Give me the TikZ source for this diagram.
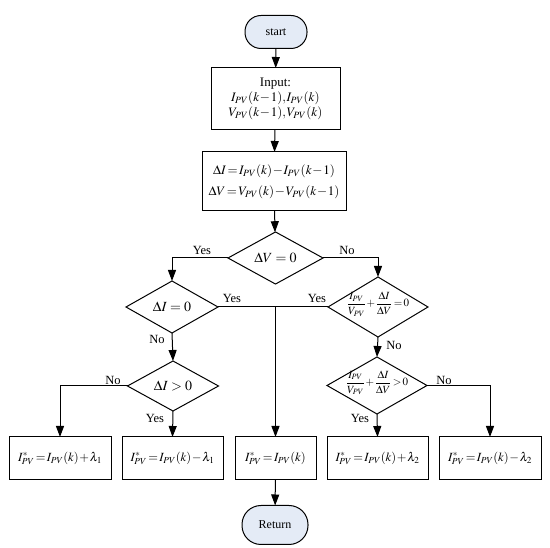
\documentclass[tikz,border=0pt]{standalone}
\usepackage{mathptmx}
\usepackage[no-math]{fontspec}
\setmainfont{Liberation Serif}
\usetikzlibrary{shapes.geometric,arrows.meta}
\definecolor{termfill}{HTML}{E4EBF6}
\newcommand{\tightmath}{\medmuskip=1mu\thickmuskip=2mu\thinmuskip=1mu}
\newcommand{\slimbox}[1]{\makebox[40pt]{\raisebox{0pt}[4pt][4pt]{#1}}}
\tikzset{
  every node/.style={inner sep=0pt,outer sep=0pt},
  flow/.style={line width=1pt,-{Triangle[length=11pt,width=8pt]}},
  plain/.style={line width=1pt},
  term/.style={draw,line width=1pt,fill=termfill,rounded corners=16pt,font=\fontsize{12}{14}\selectfont},
  procbox/.style={draw,line width=1pt,align=center,font=\fontsize{13}{16}\selectfont\tightmath},
  resbox/.style={draw,line width=1pt,minimum height=43pt,font=\fontsize{12.5}{16}\selectfont\tightmath},
  decide/.style={draw,diamond,line width=1pt,font=\fontsize{14}{16}\selectfont},
  decsmall/.style={draw,diamond,line width=1pt,font=\fontsize{11}{13}\selectfont\tightmath},
  lab/.style={font=\fontsize{12.5}{14}\selectfont}
}
\begin{document}
\begin{tikzpicture}[x=1pt,y=-1pt]
\useasboundingbox (0,0) rectangle (550,548);
% terminators
\node[term,minimum width=62pt,minimum height=33pt] (start) at (276,32) {start};
\node[term,minimum width=66pt,minimum height=39pt,rounded corners=19pt] (ret) at (275,525) {Return};
% process boxes
\node[procbox,minimum width=129pt,minimum height=62pt] (input) at (275.5,99)
  {Input:\\[-1pt] $I_{PV}(k-1), I_{PV}(k)$\\[-1pt] $V_{PV}(k-1),V_{PV}(k)$};
\node[procbox,minimum width=144pt,minimum height=59pt] (delta) at (274,181.5)
  {$\Delta I = I_{PV}(k)-I_{PV}(k-1)$\\[5pt] $\Delta V = V_{PV}(k)-V_{PV}(k-1)$};
% decisions
\node[decide,minimum width=95pt,minimum height=50pt] (dv) at (275.5,258) {$\Delta V=0$};
\node[decide,minimum width=92pt,minimum height=52pt] (di0) at (172,307) {$\Delta I=0$};
\node[decsmall,minimum width=100pt,minimum height=60pt] (r1) at (378,307)
  {\slimbox{$\displaystyle\frac{I_{PV}}{V_{PV}}+\frac{\Delta I}{\Delta V}=0$}};
\node[decide,minimum width=91pt,minimum height=50pt] (dip) at (173,386) {$\Delta I>0$};
\node[decsmall,minimum width=100pt,minimum height=57pt] (r2) at (377,385.5)
  {\slimbox{$\displaystyle\frac{I_{PV}}{V_{PV}}+\frac{\Delta I}{\Delta V}>0$}};
% result boxes
\node[resbox,minimum width=102pt] (b1) at (60,458.5) {$I^{*}_{PV}=I_{PV}(k)+\lambda_1$};
\node[resbox,minimum width=101pt] (b2) at (172.5,458.5) {$I^{*}_{PV}=I_{PV}(k)-\lambda_1$};
\node[resbox,minimum width=81pt] (b3) at (275.5,458.5) {$I^{*}_{PV}=I_{PV}(k)$};
\node[resbox,minimum width=101pt] (b4) at (377.5,458.5) {$I^{*}_{PV}=I_{PV}(k)+\lambda_2$};
\node[resbox,minimum width=102pt] (b5) at (490,458.5) {$I^{*}_{PV}=I_{PV}(k)-\lambda_2$};
% junction coordinates
\coordinate (j) at (275.5,307);
\coordinate (nl) at (60,386);
\coordinate (nr) at (490,385.5);
% connectors
\draw[flow] (start) -- (input);
\draw[flow] (input) -- (delta);
\draw[flow] (delta) -- (dv);
\draw[flow] (dv.west) -| (di0.north);
\draw[flow] (dv.east) -| (r1.north);
\draw[plain] (di0.east) -- (r1.west);
\draw[flow] (j) -- (b3.north);
\draw[flow] (di0.south) -- (dip.north);
\draw[flow] (r1.south) -- (r2.north);
\draw[flow] (dip.west) -- (nl) -- (b1.north);
\draw[flow] (dip.south) -- (b2.north);
\draw[flow] (r2.south) -- (b4.north);
\draw[flow] (r2.east) -- (nr) -- (b5.north);
\draw[flow] (b3) -- (ret);
% labels
\node[lab] (l1) at (202,250) {Yes};
\node[lab] (l2) at (347,250) {No};
\node[lab] (l3) at (232,298) {Yes};
\node[lab] (l4) at (317,298) {Yes};
\node[lab] (l5) at (157,339) {No};
\node[lab] (l6) at (394,345) {No};
\node[lab] (l7) at (113,380) {No};
\node[lab] (l8) at (155,418) {Yes};
\node[lab] (l9) at (360,418) {Yes};
\node[lab] (l10) at (444,380) {No};
\end{tikzpicture}
\end{document}
